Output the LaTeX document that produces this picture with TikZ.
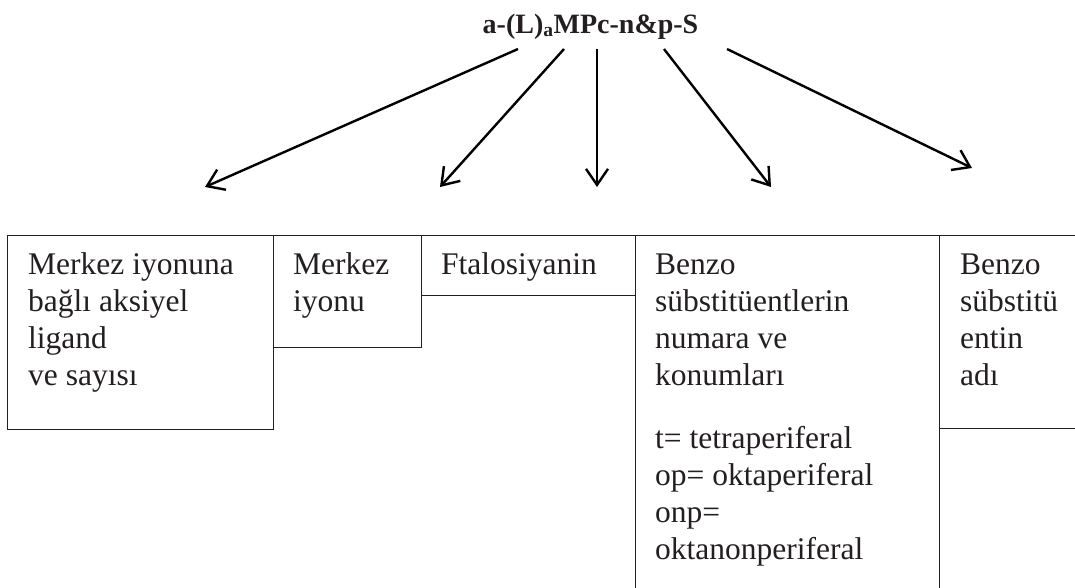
\documentclass[tikz,border=0pt]{standalone}
\usepackage{fontspec}
\setmainfont{Liberation Serif}
\usetikzlibrary{arrows.meta}
\definecolor{ink}{HTML}{231F20}
\newcommand{\boxlines}[1]{\begin{tabular}[t]{@{}l@{}}#1\end{tabular}}
\begin{document}
\begin{tikzpicture}[x=1pt,y=-1pt,
  boxframe/.style={draw=ink, line width=1.4pt, inner sep=0pt, anchor=north west},
  boxtext/.style={anchor=base west, inner sep=0pt, text=ink, font=\fontsize{31.5}{37}\selectfont},
  pointer/.style={draw=black, line width=2.4pt, -{Straight Barb[length=16pt,width=22pt,line width=2.4pt]}}]
\useasboundingbox (0,0) rectangle (1075,587);
\clip (0,0) rectangle (1075,587);
% boxes
\node[boxframe, minimum width=266pt, minimum height=194pt] (b1) at (7,235) {};
\node[boxframe, minimum width=148pt, minimum height=112pt] (b2) at (273,235) {};
\node[boxframe, minimum width=214pt, minimum height=60pt] (b3) at (421,235) {};
\node[boxframe, minimum width=304pt, minimum height=380pt] (b4) at (635,235) {};
\node[boxframe, minimum width=160pt, minimum height=193pt] (b5) at (939,235) {};
% texts
\node[boxtext] (l1) at (28,274) {\boxlines{Merkez iyonuna\\bağlı aksiyel\\ligand\\ve sayısı}};
\node[boxtext] (l2) at (293,274) {\boxlines{Merkez\\iyonu}};
\node[boxtext] (l3) at (441,274) {\boxlines{Ftalosiyanin}};
\node[boxtext] (l4) at (655,274) {\boxlines{Benzo\\sübstitüentlerin\\numara ve\\konumları\\[26pt]t= tetraperiferal\\op= oktaperiferal\\onp=\\oktanonperiferal}};
\node[boxtext] (l5) at (960,274) {\boxlines{Benzo\\sübstitü\\entin\\adı}};
% title
\node[anchor=base, inner sep=0pt, text=ink, font=\bfseries\fontsize{28}{30}\selectfont] (title) at (590.5,33) {a-(L)\textsubscript{a}MPc-n\&p-S};
% arrows
\coordinate (s1) at (518,49); \coordinate (e1) at (205,187);
\coordinate (s2) at (564,49); \coordinate (e2) at (440,187);
\coordinate (s3) at (597,49); \coordinate (e3) at (597,187);
\coordinate (s4) at (664,49); \coordinate (e4) at (771,187);
\coordinate (s5) at (727,49); \coordinate (e5) at (972,168);
\draw[pointer] (s1) -- (e1);
\draw[pointer] (s2) -- (e2);
\draw[pointer] (s3) -- (e3);
\draw[pointer] (s4) -- (e4);
\draw[pointer] (s5) -- (e5);
\end{tikzpicture}
\end{document}
